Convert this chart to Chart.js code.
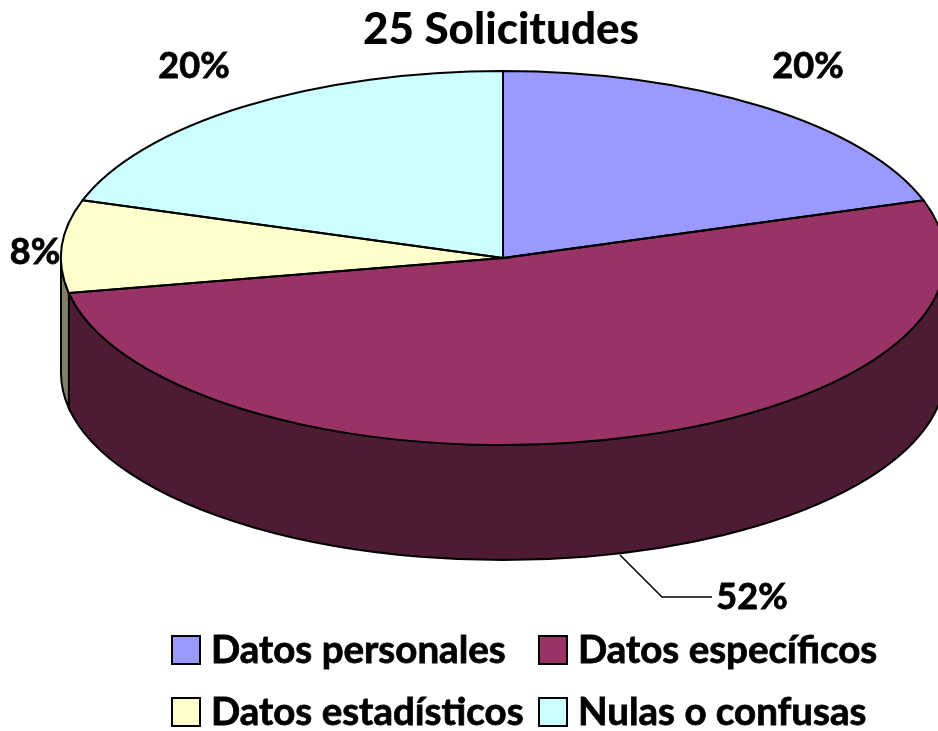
<!DOCTYPE html>
<html>
<head>
<meta charset="utf-8">
<title>25 Solicitudes</title>
<script src="https://cdn.jsdelivr.net/npm/chart.js@4/dist/chart.umd.min.js"></script>
<style>
  html, body { margin: 0; padding: 0; background: #fff; }
  canvas { display: block; }
</style>
</head>
<body>
<canvas id="pieChart" width="938" height="731"></canvas>
<script>
// --- DATA ---
const titleText = '25 Solicitudes';
const categories = ['Datos personales', 'Datos específicos', 'Datos estadísticos', 'Nulas o confusas'];
const percentValues = [20, 52, 8, 20];

// --- STYLE ---
const topColors = ['#9999FF', '#993366', '#FFFFCC', '#CCFFFF'];
const sideColors = ['#4D4D80', '#4D1B33', '#808066', '#668080'];
const fontFamily = 'Lato, "Open Sans", sans-serif';

// pie geometry on the page (the flat circle gets squashed into this ellipse)
const pieX = 503;
const pieY = 258;
const radiusX = 442;
const radiusY = 187;
const pieDepth = 115;

const labelPositions = [[808, 66], [752, 597], [35, 252], [194, 66]];
const leaderLine = [[620, 555], [662, 597], [712, 597]];

// legend swatch left/top, text starts 11px after the swatch
const legendPositions = [[172, 636], [539, 636], [172, 698], [539, 698]];
const swatchSize = 28;

function ellipseArc(ctx, y, start, end, ccw) {
    ctx.ellipse(pieX, y, radiusX, radiusY, 0, start, end, ccw);
}

// bold text with a hair of stroke, the original is heavier than Lato Bold
function heavyText(ctx, text, x, y) {
    ctx.lineWidth = 0.8;
    ctx.strokeStyle = '#000';
    ctx.strokeText(text, x, y);
    ctx.fillText(text, x, y);
}

const pie3d = {
    id: 'pie3d',
    beforeDatasetsDraw(chart) {
        const ctx = chart.ctx;
        const arcs = chart.getDatasetMeta(0).data;

        // side wall, only the part facing the viewer
        arcs.forEach((arc, i) => {
            const start = Math.max(arc.startAngle, 0);
            const end = Math.min(arc.endAngle, Math.PI);
            if (end <= start) return;
            ctx.beginPath();
            ellipseArc(ctx, pieY, start, end, false);
            ellipseArc(ctx, pieY + pieDepth, end, start, true);
            ctx.closePath();
            ctx.fillStyle = sideColors[i];
            ctx.fill();
            ctx.lineWidth = 2;
            ctx.strokeStyle = '#000';
            ctx.stroke();
        });

        ctx.save();
        ctx.translate(pieX, pieY);
        ctx.scale(1, radiusY / radiusX);
        ctx.translate(-arcs[0].x, -arcs[0].y);
    },
    afterDatasetsDraw(chart) {
        const ctx = chart.ctx;
        ctx.restore();

        // outlines after the transform is gone so the line stays even
        ctx.lineWidth = 2;
        ctx.strokeStyle = '#000';
        chart.getDatasetMeta(0).data.forEach(arc => {
            ctx.beginPath();
            ctx.moveTo(pieX, pieY);
            ellipseArc(ctx, pieY, arc.startAngle, arc.endAngle, false);
            ctx.closePath();
            ctx.stroke();
        });

        // leader line for the big slice
        ctx.lineWidth = 1.5;
        ctx.beginPath();
        leaderLine.forEach((p, i) => i ? ctx.lineTo(p[0], p[1]) : ctx.moveTo(p[0], p[1]));
        ctx.stroke();

        // percent labels
        ctx.fillStyle = '#000';
        ctx.font = 'bold 36px ' + fontFamily;
        ctx.textAlign = 'center';
        ctx.textBaseline = 'middle';
        percentValues.forEach((v, i) => {
            heavyText(ctx, v + '%', labelPositions[i][0], labelPositions[i][1]);
        });

        // legend, the columns of the original don't follow the built-in layout
        ctx.textAlign = 'left';
        ctx.font = 'bold 38.5px ' + fontFamily;
        categories.forEach((name, i) => {
            const [x, y] = legendPositions[i];
            ctx.fillStyle = topColors[i];
            ctx.fillRect(x, y, swatchSize, swatchSize);
            ctx.lineWidth = 2;
            ctx.strokeStyle = '#000';
            ctx.strokeRect(x, y, swatchSize, swatchSize);
            ctx.fillStyle = '#000';
            heavyText(ctx, name, x + swatchSize + 11, y + swatchSize / 2 + 1);
        });
    }
};

new Chart(document.getElementById('pieChart'), {
    type: 'pie',
    data: {
        labels: categories,
        datasets: [{
            data: percentValues,
            backgroundColor: topColors,
            borderWidth: 0,
            radius: radiusX,
            clip: false
        }]
    },
    options: {
        responsive: false,
        animation: false,
        layout: { padding: { left: 64 } },
        plugins: {
            tooltip: { enabled: false },
            legend: { display: false },
            title: {
                display: true,
                text: titleText,
                color: '#000',
                font: { family: fontFamily, size: 44, weight: '900' },
                padding: { top: 3, bottom: 8 }
            }
        }
    },
    plugins: [pie3d]
});
</script>
</body>
</html>
